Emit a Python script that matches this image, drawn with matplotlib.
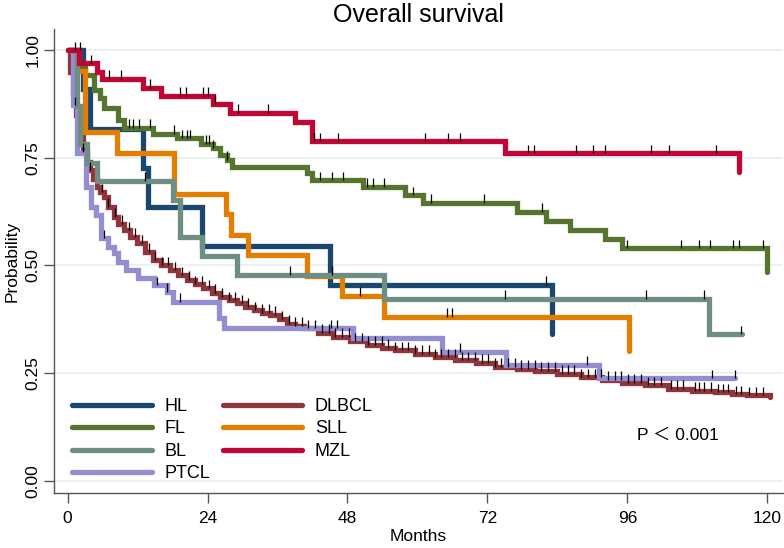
import numpy as np
import matplotlib
matplotlib.use("Agg")
import matplotlib.pyplot as plt

plt.rcParams['font.family'] = ['Liberation Sans', 'Noto Sans CJK JP', 'DejaVu Sans']

# Kaplan-Meier step data (months, survival probability)
hl_t = [0, 2.7, 3.9, 12.9, 13.8, 23.0, 45.0, 83.0]
hl_s = [1.0, 0.909, 0.818, 0.727, 0.636, 0.545, 0.455, 0.341]
hl_cens = [1.3, 2.2, 82.1]

fl_t = [0, 2.0, 3.0, 4.5, 5.6, 6.2, 8.7, 9.6, 14.7, 18.8, 22.8, 25.0, 26.2, 27.3,
        28.2, 41.0, 41.9, 50.7, 57.9, 61.0, 77.0, 82.0, 86.2, 92.1, 95.0, 120.0]
fl_s = [1.0, 0.96, 0.942, 0.907, 0.888, 0.865, 0.837, 0.820, 0.806, 0.795, 0.783, 0.772,
        0.756, 0.745, 0.729, 0.714, 0.698, 0.683, 0.663, 0.645, 0.625, 0.604, 0.582,
        0.561, 0.540, 0.485]
fl_cens = [10.5, 11.3, 12.2, 14.2, 18.2, 19.6, 20.5, 21.0, 23.7, 24.3, 25.0, 27.3, 43.3,
           45.3, 47.3, 51.3, 52.4, 54.3, 59.3, 62.4, 71.4, 81.3, 96.0, 105.2, 108.2,
           110.1, 114.1, 115.2, 119.2]

bl_t = [0, 1.7, 2.2, 3.4, 5.0, 18.0, 19.2, 23.0, 29.0, 54.2, 109.9, 115.6]
bl_s = [1.0, 0.870, 0.783, 0.739, 0.696, 0.652, 0.565, 0.522, 0.478, 0.423, 0.340, 0.340]
bl_cens = [13.3, 38.2, 45.3, 75.0, 99.2, 109.2, 115.4]

ptcl_t = [0, 0.9, 1.7, 3.2, 4.0, 4.8, 5.7, 6.9, 8.0, 8.6, 10.0, 12.0, 14.9, 17.1, 18.0,
          26.0, 26.9, 49.0, 64.2, 75.2, 91.2, 114.5]
ptcl_s = [1.0, 0.872, 0.760, 0.683, 0.636, 0.617, 0.563, 0.543, 0.528, 0.509, 0.489,
          0.470, 0.454, 0.439, 0.416, 0.377, 0.354, 0.331, 0.300, 0.269, 0.238, 0.238]
ptcl_cens = [1.3, 6.2, 15.3, 17.1, 19.3, 45.2, 46.2, 67.3, 89.1, 110.5, 114.5]

dlbcl_t = [0, 0.5, 1.0, 1.5, 2.2, 2.7, 3.3, 3.9, 4.4, 5.0, 5.6, 6.2, 7.0, 7.9, 8.7, 9.6,
           10.7, 11.9, 13.3, 14.7, 16.1, 17.6, 19.0, 20.5, 21.9, 23.3, 24.7, 26.2, 27.6,
           29.0, 30.5, 31.9, 33.3, 34.8, 36.2, 37.7, 39.0, 40.6, 43.0, 45.6, 48.5, 51.3,
           54.0, 56.2, 59.5, 63.0, 66.5, 70.0, 73.3, 77.0, 80.2, 84.0, 88.0, 91.6, 95.0,
           99.0, 103.0, 107.0, 111.0, 114.0, 116.5, 120.5]
dlbcl_s = [1.0, 0.95, 0.90, 0.85, 0.80, 0.764, 0.74, 0.721, 0.70, 0.683, 0.67, 0.659,
           0.636, 0.613, 0.597, 0.582, 0.566, 0.551, 0.531, 0.512, 0.500, 0.489, 0.477,
           0.466, 0.456, 0.447, 0.437, 0.427, 0.419, 0.412, 0.404, 0.396, 0.390, 0.385,
           0.375, 0.365, 0.360, 0.354, 0.344, 0.334, 0.324, 0.315, 0.308, 0.303, 0.295,
           0.287, 0.280, 0.274, 0.265, 0.260, 0.255, 0.248, 0.240, 0.234, 0.228, 0.222,
           0.214, 0.209, 0.205, 0.201, 0.198, 0.195]
dlbcl_cens = [2.7, 3.9, 5.9, 7.0, 8.2, 9.3, 10.5, 11.6, 12.8, 13.9, 15.0, 16.2, 17.3,
              18.5, 19.6, 20.8, 21.9, 23.0, 24.2, 25.3, 26.5, 27.6, 28.7, 29.9, 31.0,
              32.2, 33.3, 34.5, 35.6, 36.8, 37.9, 39.0, 40.2, 41.3, 42.5, 43.6, 44.8,
              45.9, 47.0, 48.2, 49.3, 50.5, 51.6, 52.7, 53.9, 55.0, 56.2, 57.3, 58.4,
              59.6, 60.7, 61.9, 63.0, 64.1, 65.3, 66.4, 67.6, 68.7, 69.8, 71.0, 72.1,
              73.3, 74.4, 75.5, 76.7, 77.8, 79.0, 80.1, 81.2, 82.4, 83.5, 84.7, 85.8,
              86.9, 88.1, 89.2, 90.4, 91.5, 92.6, 93.8, 94.9, 96.1, 97.2, 98.3, 99.5,
              100.6, 101.8, 103.5, 104.5, 105.5, 107.5, 108.3, 109.2, 110.3, 111.5,
              112.3, 113.2, 114.6, 115.5, 116.9, 118.0, 119.2]

sll_t = [0, 1.6, 3.0, 8.4, 18.2, 27.2, 28.0, 31.0, 41.0, 47.0, 54.2, 96.2]
sll_s = [1.0, 0.952, 0.810, 0.762, 0.667, 0.619, 0.571, 0.524, 0.476, 0.429, 0.381, 0.302]
sll_cens = [50.2, 65.0, 65.9]

mzl_t = [0, 2.0, 5.0, 5.9, 13.0, 16.1, 24.9, 27.9, 39.0, 41.9, 75.0, 115.2]
mzl_s = [1.0, 0.969, 0.950, 0.933, 0.913, 0.894, 0.875, 0.854, 0.833, 0.788, 0.760, 0.717]
mzl_cens = [4.1, 7.1, 9.2, 14.2, 19.3, 20.3, 23.3, 24.1, 25.3, 29.3, 34.3, 42.3, 43.3,
            46.3, 61.3, 65.3, 67.3, 79.0, 80.0, 87.2, 90.1, 92.2, 100.1, 103.2, 111.1]

groups = ['HL', 'FL', 'BL', 'PTCL', 'DLBCL', 'SLL', 'MZL']
colors = {'HL': '#1a476f', 'FL': '#55752f', 'BL': '#6e8e84', 'PTCL': '#938dd2',
          'DLBCL': '#90353b', 'SLL': '#e37e00', 'MZL': '#c10534'}
curves = {'HL': (hl_t, hl_s, hl_cens), 'FL': (fl_t, fl_s, fl_cens),
          'BL': (bl_t, bl_s, bl_cens), 'PTCL': (ptcl_t, ptcl_s, ptcl_cens),
          'DLBCL': (dlbcl_t, dlbcl_s, dlbcl_cens), 'SLL': (sll_t, sll_s, sll_cens),
          'MZL': (mzl_t, mzl_s, mzl_cens)}
draw_order = ['HL', 'FL', 'DLBCL', 'PTCL', 'SLL', 'BL', 'MZL']

fig = plt.figure(figsize=(7.84, 5.48), dpi=100)
ax = fig.add_axes([0.069, 0.10, 0.93, 0.847])

handles = {}
for i, g in enumerate(draw_order):
    t, s, cens = curves[g]
    line, = ax.plot(t, s, drawstyle='steps-post', color=colors[g], lw=3.8,
                    solid_capstyle='round', solid_joinstyle='miter', zorder=3 + i,
                    label=g)
    handles[g] = line
    # censoring ticks drawn above the curve
    idx = np.searchsorted(t, cens, side='right') - 1
    lev = np.array(s)[idx]
    ax.vlines(cens, lev, lev + 0.02, color='black', lw=0.9, zorder=20)

ax.set_xlim(-2.3, 122.7)
ax.set_ylim(-0.029, 1.049)
ax.set_xticks([0, 24, 48, 72, 96, 120])
ax.set_yticks([0, 0.25, 0.5, 0.75, 1.0])
ax.set_yticklabels(['0.00', '0.25', '0.50', '0.75', '1.00'])
ax.yaxis.grid(True, color='#e8f0f1', lw=1.3, zorder=0)
ax.set_axisbelow(True)

for side in ['top', 'right']:
    ax.spines[side].set_visible(False)
for side in ['left', 'bottom']:
    ax.spines[side].set_color('#555555')
    ax.spines[side].set_linewidth(1.0)
ax.tick_params(axis='both', length=7, width=1.0, color='#555555', labelsize=12.5)
ax.tick_params(axis='x', pad=6)
ax.tick_params(axis='y', pad=3, labelrotation=90)
plt.setp(ax.get_yticklabels(), va='center')

ax.set_xlabel('Months', fontsize=12.5, labelpad=2)
ax.set_ylabel('Probability', fontsize=12.5, labelpad=4)
ax.set_title('Overall survival', fontsize=18, pad=5)

ax.text(97.7, 0.105, 'P ＜ 0.001', fontsize=12.5, va='center', ha='left')

leg = ax.legend([handles[g] for g in groups], groups, ncol=2, frameon=False,
                loc='upper left', bbox_to_anchor=(0.025, 0.205), borderaxespad=0,
                borderpad=0, handlelength=4.4, handletextpad=0.7, columnspacing=0.7,
                labelspacing=0.3, fontsize=13)

fig.savefig('out.png', dpi=100)
